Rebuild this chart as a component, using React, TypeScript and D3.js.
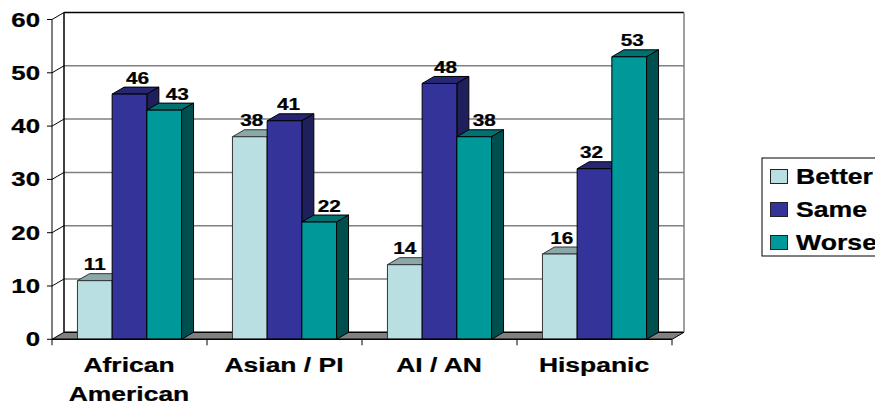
import React from "react";
import * as d3 from "d3";

const categories = [["African", "American"], ["Asian / PI"], ["AI / AN"], ["Hispanic"]];
const seriesNames = ["Better", "Same", "Worse"];
const better = [11, 38, 14, 16];
const same = [46, 41, 48, 32];
const worse = [43, 22, 38, 53];
const yTicks = [0, 10, 20, 30, 40, 50, 60];

// Horizontal nudges that keep value labels clear of neighbouring bars.
const labelNudge = [
  [0, 8, 13],
  [2, 4, 10],
  [0, 6, 10],
  [2, -3, 3],
];

const palette = [
  { front: "#b9dfe3", side: "#7fa3a6", top: "#8aa8aa", edge: "#333333" },
  { front: "#333399", side: "#1f1f5c", top: "#262673", edge: "#000000" },
  { front: "#009999", side: "#004f4f", top: "#007070", edge: "#000000" },
];

const FONT = "'Liberation Sans', Arial, sans-serif";
const DEPTH_X = 12;
const DEPTH_Y = 7;
const BAR_W = 34.7;

const x = d3.scaleBand<number>().domain([0, 1, 2, 3]).range([52, 672]);
const y = d3.scaleLinear().domain([0, 60]).range([339.3, 19.5]);
const poly = (pts: number[][]) => pts.map((p) => p.join(",")).join(" ");

// Bold label with the extended letterforms used throughout the chart.
function Wide(props: { x: number; y: number; size: number; sx?: number; anchor?: string; children: React.ReactNode }) {
  const { x: px, y: py, size, sx = 1.26, anchor = "middle", children } = props;
  return (
    <text
      transform={`translate(${px},${py}) scale(${sx},1)`}
      textAnchor={anchor}
      fontSize={size}
      fontWeight={700}
      stroke="#000"
      strokeWidth={0.25}
    >
      {children}
    </text>
  );
}

export default function App() {
  const series = [better, same, worse];
  const x0 = x.range()[0];
  const x1 = x.range()[1];
  const base = y(0);
  const top = y(60);
  return (
    <svg
      width={875}
      height={406}
      style={{ position: "absolute", left: 0, top: 0, background: "#fff", fontFamily: FONT }}
    >
      {/* back wall gridlines */}
      {yTicks.slice(1, -1).map((t) => (
        <line key={t} x1={x0 + DEPTH_X} x2={x1 + DEPTH_X} y1={y(t) - DEPTH_Y} y2={y(t) - DEPTH_Y} stroke="#808080" strokeWidth={1.5} />
      ))}
      {/* floor */}
      <polygon
        points={poly([[x0, base], [x0 + DEPTH_X, base - DEPTH_Y], [x1 + DEPTH_X, base - DEPTH_Y], [x1, base]])}
        fill="#808080"
      />
      <line x1={x0 + DEPTH_X} x2={x1 + DEPTH_X} y1={base - DEPTH_Y} y2={base - DEPTH_Y} stroke="#000" strokeWidth={1.5} />
      {/* wall frame */}
      <line x1={x0 + DEPTH_X} x2={x0 + DEPTH_X} y1={top - DEPTH_Y} y2={base - DEPTH_Y} stroke="#000" strokeWidth={1.5} />
      <line x1={x0 + DEPTH_X} x2={x1 + DEPTH_X} y1={top - DEPTH_Y} y2={top - DEPTH_Y} stroke="#000" strokeWidth={1.5} />
      <line x1={x1 + DEPTH_X} x2={x1 + DEPTH_X} y1={top - DEPTH_Y} y2={base - DEPTH_Y} stroke="#808080" strokeWidth={1.5} />
      <line x1={x1} x2={x1 + DEPTH_X} y1={base} y2={base - DEPTH_Y} stroke="#000" strokeWidth={1} />

      {/* value axis */}
      <line x1={x0} x2={x0} y1={top} y2={base} stroke="#000" strokeWidth={1} />
      {yTicks.map((t) => (
        <g key={t}>
          <line x1={x0 - 5} x2={x0} y1={y(t)} y2={y(t)} stroke="#000" />
          <line x1={x0} x2={x0 + DEPTH_X} y1={y(t)} y2={y(t) - DEPTH_Y} stroke="#000" />
          <Wide x={40} y={y(t) + 7} size={20.5} anchor="end">{t}</Wide>
        </g>
      ))}

      {/* bars, left to right so each front hides its neighbour's side */}
      {categories.map((_, c) => {
        const start = (x(c) as number) + (x.bandwidth() - BAR_W * 3) / 2;
        return (
          <g key={c}>
            {series.map((vals, s) => {
              const l = start + s * BAR_W;
              const r = l + BAR_W;
              const t = y(vals[c]);
              const col = palette[s];
              return (
                <g key={s} stroke={col.edge} strokeWidth={1} strokeLinejoin="round">
                  <polygon fill={col.top} points={poly([[l, t], [l + DEPTH_X, t - DEPTH_Y], [r + DEPTH_X, t - DEPTH_Y], [r, t]])} />
                  <polygon fill={col.side} points={poly([[r, t], [r + DEPTH_X, t - DEPTH_Y], [r + DEPTH_X, base - DEPTH_Y], [r, base]])} />
                  <rect x={l} y={t} width={BAR_W} height={base - t} fill={col.front} />
                </g>
              );
            })}
          </g>
        );
      })}

      {/* category axis */}
      <line x1={x0} x2={x1} y1={base} y2={base} stroke="#000" strokeWidth={1.5} />
      {[0, 1, 2, 3, 4].map((i) => {
        const px = i < 4 ? (x(i) as number) : x1;
        return <line key={i} x1={px} x2={px} y1={base} y2={base + 6} stroke="#000" />;
      })}
      {categories.map((lines, c) =>
        lines.map((ln, i) => (
          <Wide key={`${c}-${i}`} x={(x(c) as number) + x.bandwidth() / 2 - 0.5} y={372 + i * 29} size={21}>{ln}</Wide>
        ))
      )}

      {/* value labels */}
      {categories.map((_, c) => {
        const start = (x(c) as number) + (x.bandwidth() - BAR_W * 3) / 2;
        return series.map((vals, s) => (
          <Wide
            key={`${c}-${s}`}
            x={start + (s + 0.5) * BAR_W + labelNudge[c][s]}
            y={y(vals[c]) - DEPTH_Y - 3.5}
            size={16.5}
          >
            {vals[c]}
          </Wide>
        ));
      })}

      {/* legend */}
      <rect x={762} y={158} width={130} height={98} fill="#fff" stroke="#000" strokeWidth={1} />
      {seriesNames.map((name, i) => (
        <g key={name}>
          <rect x={770.5} y={169.5 + i * 33} width={17} height={14} fill={palette[i].front} stroke="#222" />
          <Wide x={796} y={183.5 + i * 33} size={21.5} sx={1.24} anchor="start">{name}</Wide>
        </g>
      ))}
    </svg>
  );
}
